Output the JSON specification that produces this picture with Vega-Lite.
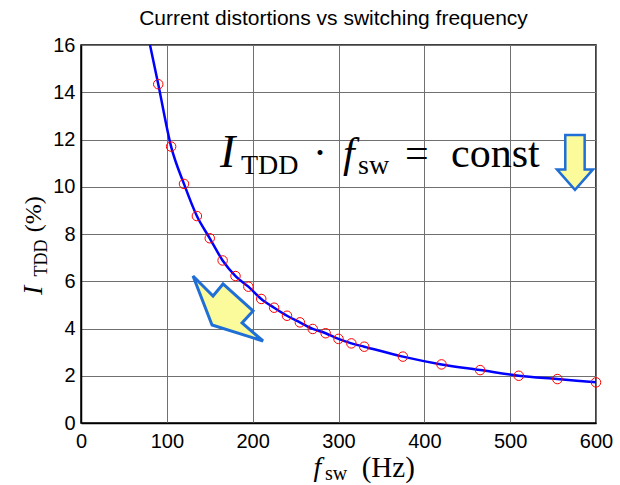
{
  "$schema": "https://vega.github.io/schema/vega-lite/v6.json",
  "width": 515,
  "height": 378,
  "autosize": "none",
  "padding": {"left": 81, "top": 45, "right": 24, "bottom": 62},
  "background": "white",
  "title": {
    "text": "Current distortions vs switching frequency",
    "font": "Liberation Sans",
    "fontSize": 21,
    "fontWeight": "normal",
    "color": "#000000",
    "frame": "group",
    "anchor": "middle",
    "baseline": "alphabetic",
    "offset": 18,
    "dy": 29,
    "dx": -5
  },
  "config": {
    "view": {"stroke": "#000000", "strokeWidth": 1.5},
    "axis": {
      "grid": true,
      "gridColor": "#707070",
      "gridWidth": 1,
      "gridOpacity": 1,
      "domain": true,
      "domainColor": "#000000",
      "domainWidth": 1.5,
      "ticks": false,
      "labelFlush": false,
      "labelFont": "Liberation Sans",
      "labelFontSize": 20,
      "labelColor": "#000000",
      "title": null
    }
  },
  "datasets": {
    "meas": [
      {"f": 90, "thd": 14.34},
      {"f": 105, "thd": 11.70},
      {"f": 120, "thd": 10.12},
      {"f": 135, "thd": 8.76},
      {"f": 150, "thd": 7.82},
      {"f": 165, "thd": 6.88},
      {"f": 180, "thd": 6.22},
      {"f": 195, "thd": 5.77},
      {"f": 210, "thd": 5.25},
      {"f": 225, "thd": 4.88},
      {"f": 240, "thd": 4.54},
      {"f": 255, "thd": 4.26},
      {"f": 270, "thd": 3.98},
      {"f": 285, "thd": 3.80},
      {"f": 300, "thd": 3.56},
      {"f": 315, "thd": 3.37},
      {"f": 330, "thd": 3.23},
      {"f": 375, "thd": 2.81},
      {"f": 420, "thd": 2.48},
      {"f": 465, "thd": 2.24},
      {"f": 510, "thd": 2.00},
      {"f": 555, "thd": 1.86},
      {"f": 600, "thd": 1.72}
    ],
    "curve": [
      {"f": 80.4, "thd": 16.0},
      {"f": 90, "thd": 14.34},
      {"f": 105, "thd": 11.70},
      {"f": 120, "thd": 10.12},
      {"f": 135, "thd": 8.76},
      {"f": 150, "thd": 7.82},
      {"f": 165, "thd": 6.88},
      {"f": 180, "thd": 6.22},
      {"f": 195, "thd": 5.77},
      {"f": 210, "thd": 5.25},
      {"f": 225, "thd": 4.88},
      {"f": 240, "thd": 4.54},
      {"f": 255, "thd": 4.26},
      {"f": 270, "thd": 3.98},
      {"f": 285, "thd": 3.80},
      {"f": 300, "thd": 3.56},
      {"f": 315, "thd": 3.37},
      {"f": 330, "thd": 3.23},
      {"f": 375, "thd": 2.81},
      {"f": 420, "thd": 2.48},
      {"f": 465, "thd": 2.24},
      {"f": 510, "thd": 2.00},
      {"f": 555, "thd": 1.86},
      {"f": 600, "thd": 1.72}
    ],
    "arrows": [
      {"name": "big", "f": 171.3, "thd": 4.87},
      {"name": "small", "f": 575.5, "thd": 11.03}
    ],
    "anno": [
      {"t": "I", "x": 161.9, "y": 10.84, "g": "eqit"},
      {"t": "f", "x": 305.2, "y": 10.84, "g": "eqf"},
      {"t": "TDD", "x": 186.4, "y": 10.54, "g": "eqsub"},
      {"t": "sw", "x": 322.7, "y": 10.54, "g": "eqsub"},
      {"t": "·", "x": 270.3, "y": 10.84, "g": "eqrm"},
      {"t": "=", "x": 377.5, "y": 10.84, "g": "eqrm"},
      {"t": "const", "x": 431.1, "y": 10.84, "g": "eqrm"},
      {"t": "f", "x": 271.0, "y": -2.24, "g": "xit"},
      {"t": "sw", "x": 284.3, "y": -2.41, "g": "xsub"},
      {"t": "(Hz)", "x": 327.0, "y": -2.29, "g": "xrm"},
      {"t": "I", "x": -45.4, "y": 5.42, "g": "yit"},
      {"t": "TDD", "x": -39.6, "y": 6.20, "g": "ysub"},
      {"t": "(%)", "x": -46.6, "y": 8.07, "g": "yrm"}
    ]
  },
  "encoding": {
    "x": {
      "field": "f",
      "type": "quantitative",
      "scale": {"domain": [0, 600], "nice": false, "zero": false},
      "axis": {"values": [0, 100, 200, 300, 400, 500, 600], "labelPadding": 8}
    },
    "y": {
      "field": "thd",
      "type": "quantitative",
      "scale": {"domain": [0, 16], "nice": false, "zero": false},
      "axis": {"values": [0, 2, 4, 6, 8, 10, 12, 14, 16], "labelPadding": 6}
    }
  },
  "layer": [
    {
      "data": {"name": "curve"},
      "mark": {"type": "line", "color": "#0000ff", "strokeWidth": 2.5, "interpolate": "monotone", "clip": true}
    },
    {
      "data": {"name": "meas"},
      "mark": {"type": "point", "shape": "circle", "filled": false, "stroke": "#ff0000", "strokeWidth": 1, "size": 90, "opacity": 1}
    },
    {
      "data": {"name": "arrows"},
      "transform": [{"filter": "datum.name === 'big'"}],
      "mark": {
        "type": "point",
        "shape": "M-1,-0.914L-0.429,-0.343L-0.143,-0.686L0.714,0.086L0.4,0.429L1,0.943L-0.457,0.486Z",
        "size": 4900,
        "filled": true,
        "fill": "#fbfb9c",
        "stroke": "#1f6fd6",
        "strokeWidth": 3,
        "strokeJoin": "miter",
        "opacity": 1
      }
    },
    {
      "data": {"name": "arrows"},
      "transform": [{"filter": "datum.name === 'small'"}],
      "mark": {
        "type": "point",
        "shape": "M-0.346,-0.982L0.346,-0.982L0.346,0.25L0.643,0.25L0,0.982L-0.643,0.25L-0.346,0.25Z",
        "size": 3136,
        "filled": true,
        "fill": "#fbfb9c",
        "stroke": "#1f6fd6",
        "strokeWidth": 2.5,
        "strokeJoin": "miter",
        "opacity": 1
      }
    },
    {
      "data": {"name": "anno"},
      "transform": [{"filter": "datum.g === 'eqit'"}],
      "mark": {"type": "text", "font": "Liberation Serif", "fontSize": 46, "fontStyle": "italic", "align": "left", "baseline": "alphabetic", "color": "#000000"},
      "encoding": {"x": {"field": "x", "type": "quantitative"}, "y": {"field": "y", "type": "quantitative"}, "text": {"field": "t"}}
    },
    {
      "data": {"name": "anno"},
      "transform": [{"filter": "datum.g === 'eqf'"}],
      "mark": {"type": "text", "font": "Liberation Serif", "fontSize": 42, "fontStyle": "italic", "align": "left", "baseline": "alphabetic", "color": "#000000"},
      "encoding": {"x": {"field": "x", "type": "quantitative"}, "y": {"field": "y", "type": "quantitative"}, "text": {"field": "t"}}
    },
    {
      "data": {"name": "anno"},
      "transform": [{"filter": "datum.g === 'eqsub'"}],
      "mark": {"type": "text", "font": "Liberation Serif", "fontSize": 28, "align": "left", "baseline": "alphabetic", "color": "#000000"},
      "encoding": {"x": {"field": "x", "type": "quantitative"}, "y": {"field": "y", "type": "quantitative"}, "text": {"field": "t"}}
    },
    {
      "data": {"name": "anno"},
      "transform": [{"filter": "datum.g === 'eqrm'"}],
      "mark": {"type": "text", "font": "Liberation Serif", "fontSize": 42, "align": "left", "baseline": "alphabetic", "color": "#000000"},
      "encoding": {"x": {"field": "x", "type": "quantitative"}, "y": {"field": "y", "type": "quantitative"}, "text": {"field": "t"}}
    },
    {
      "data": {"name": "anno"},
      "transform": [{"filter": "datum.g === 'xit'"}],
      "mark": {"type": "text", "font": "Liberation Serif", "fontSize": 28, "fontStyle": "italic", "align": "left", "baseline": "alphabetic", "color": "#000000"},
      "encoding": {"x": {"field": "x", "type": "quantitative"}, "y": {"field": "y", "type": "quantitative"}, "text": {"field": "t"}}
    },
    {
      "data": {"name": "anno"},
      "transform": [{"filter": "datum.g === 'xsub'"}],
      "mark": {"type": "text", "font": "Liberation Serif", "fontSize": 20, "align": "left", "baseline": "alphabetic", "color": "#000000"},
      "encoding": {"x": {"field": "x", "type": "quantitative"}, "y": {"field": "y", "type": "quantitative"}, "text": {"field": "t"}}
    },
    {
      "data": {"name": "anno"},
      "transform": [{"filter": "datum.g === 'xrm'"}],
      "mark": {"type": "text", "font": "Liberation Serif", "fontSize": 29, "align": "left", "baseline": "alphabetic", "color": "#000000"},
      "encoding": {"x": {"field": "x", "type": "quantitative"}, "y": {"field": "y", "type": "quantitative"}, "text": {"field": "t"}}
    },
    {
      "data": {"name": "anno"},
      "transform": [{"filter": "datum.g === 'yit'"}],
      "mark": {"type": "text", "font": "Liberation Serif", "fontSize": 28, "fontStyle": "italic", "angle": 270, "align": "left", "baseline": "alphabetic", "color": "#000000"},
      "encoding": {"x": {"field": "x", "type": "quantitative"}, "y": {"field": "y", "type": "quantitative"}, "text": {"field": "t"}}
    },
    {
      "data": {"name": "anno"},
      "transform": [{"filter": "datum.g === 'ysub'"}],
      "mark": {"type": "text", "font": "Liberation Serif", "fontSize": 18, "angle": 270, "align": "left", "baseline": "alphabetic", "color": "#000000"},
      "encoding": {"x": {"field": "x", "type": "quantitative"}, "y": {"field": "y", "type": "quantitative"}, "text": {"field": "t"}}
    },
    {
      "data": {"name": "anno"},
      "transform": [{"filter": "datum.g === 'yrm'"}],
      "mark": {"type": "text", "font": "Liberation Serif", "fontSize": 24, "angle": 270, "align": "left", "baseline": "alphabetic", "color": "#000000"},
      "encoding": {"x": {"field": "x", "type": "quantitative"}, "y": {"field": "y", "type": "quantitative"}, "text": {"field": "t"}}
    }
  ]
}
